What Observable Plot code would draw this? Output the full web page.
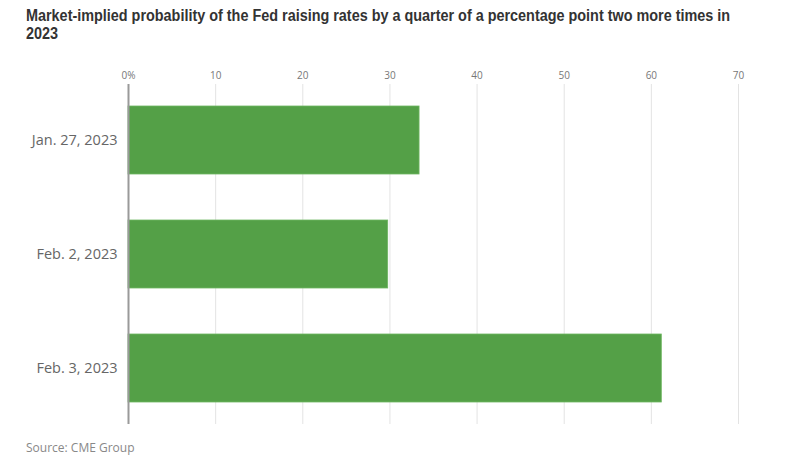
<!DOCTYPE html>
<html>
<head>
<meta charset="utf-8">
<script src="https://cdn.jsdelivr.net/npm/d3@7"></script>
<script src="https://cdn.jsdelivr.net/npm/@observablehq/plot@0.6"></script>
<style>
  body { margin: 0; background: #fff; }
  #wrap { width: 800px; height: 470px; position: relative; }
  #title { position: absolute; left: 26px; top: 7px; white-space: nowrap; font-family: "Liberation Sans", Arial, sans-serif; font-size: 16px; font-weight: bold; line-height: 18px; color: #333; transform: scaleX(0.9); transform-origin: 0 0; }
  #chart { position: absolute; left: 0; top: 50px; }
  #source { position: absolute; left: 26px; top: 439px; font-size: 12px; color: #888; font-family: "Open Sans", "DejaVu Sans", sans-serif; }
</style>
</head>
<body>
<div id="wrap">
  <div id="title">Market-implied probability of the Fed raising rates by a quarter of a percentage point two more times in<br>2023</div>
  <div id="chart"></div>
  <div id="source">Source: CME Group</div>
</div>
<script>
const dates = ["Jan. 27, 2023", "Feb. 2, 2023", "Feb. 3, 2023"];
const probabilities = [33.4, 29.8, 61.2];
const xTicks = [0, 10, 20, 30, 40, 50, 60, 70];
const xTickLabels = ["0%", "10", "20", "30", "40", "50", "60", "70"];

const data = dates.map((d, i) => ({date: d, value: probabilities[i]}));

const chart = Plot.plot({
  width: 800,
  height: 390,
  marginLeft: 128,
  marginRight: 62,
  marginTop: 34,
  marginBottom: 16,
  style: {fontFamily: "'Open Sans', 'DejaVu Sans', sans-serif", color: "#666", background: "transparent"},
  x: {domain: [0, 70], axis: null, label: null},
  y: {domain: dates, paddingInner: 0.4, paddingOuter: 0.18, axis: null, label: null},
  marks: [
    Plot.gridX(xTicks.filter(t => t > 0), {stroke: "#e3e3e3", strokeOpacity: 1, strokeWidth: 1}),
    Plot.axisX(xTicks, {anchor: "top", label: null, tickSize: 0, tickPadding: 6, fontSize: 10, fill: "#777",
      tickFormat: (d) => xTickLabels[xTicks.indexOf(d)]}),
    Plot.barX(data, {x: "value", y: "date", fill: "#54a047", stroke: "#6fb763", strokeWidth: 0.8}),
    Plot.ruleX([0], {stroke: "#9a9a9a", strokeWidth: 2}),
    Plot.axisY({label: null, tickSize: 0, tickPadding: 11, fontSize: 14.5, fill: "#666"})
  ]
});
document.getElementById("chart").appendChild(chart);
</script>
</body>
</html>
